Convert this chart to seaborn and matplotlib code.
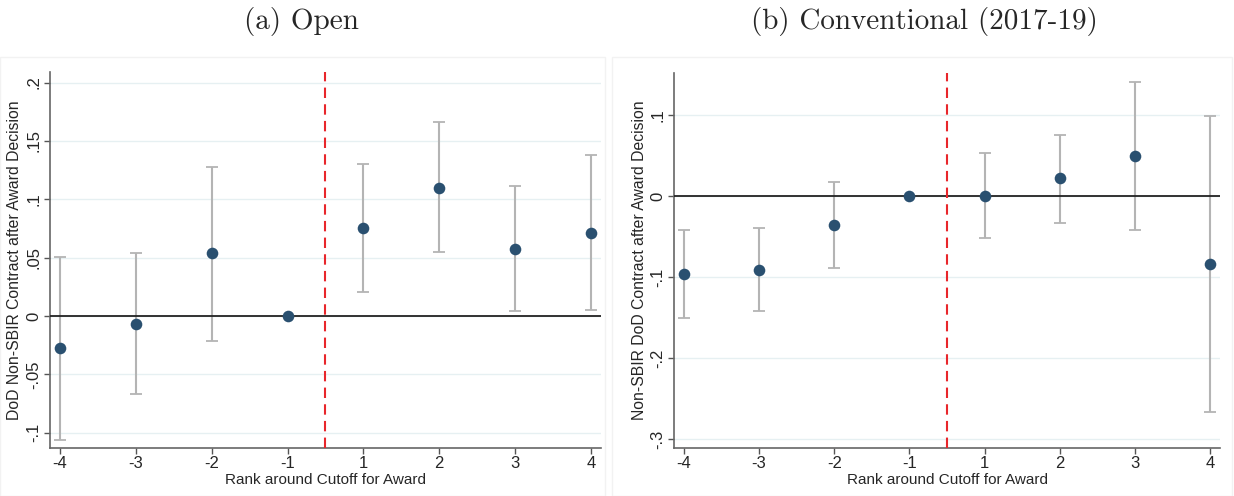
import numpy as np
import pandas as pd
import matplotlib
matplotlib.use("Agg")
import matplotlib.pyplot as plt
import seaborn as sns
from matplotlib.ticker import FuncFormatter

sns.set_style("white")
plt.rcParams['font.family'] = ['Liberation Sans', 'DejaVu Sans']

ranks = ["-4", "-3", "-2", "-1", "1", "2", "3", "4"]

# (a) Open
open_est = [-0.027, -0.007, 0.054, 0.0, 0.075, 0.110, 0.057, 0.071]
open_lo = [-0.106, -0.067, -0.021, 0.0, 0.021, 0.055, 0.004, 0.005]
open_hi = [0.051, 0.054, 0.128, 0.0, 0.130, 0.166, 0.111, 0.138]

# (b) Conventional (2017-19)
conv_est = [-0.096, -0.091, -0.036, 0.0, 0.000, 0.022, 0.049, -0.084]
conv_lo = [-0.150, -0.142, -0.089, 0.0, -0.052, -0.033, -0.042, -0.267]
conv_hi = [-0.042, -0.039, 0.017, 0.0, 0.053, 0.076, 0.141, 0.099]

navy = "#2a5070"
gray_ci = "#b4b4b4"
grid_c = "#e6f0f2"


def stata_fmt(v, pos):
    s = "%g" % round(v, 4)
    s = s.replace("0.", ".")
    return s


def panel(ax, est, lo, hi, yticks, ylim, ylabel):
    df = pd.DataFrame({"rank": ranks, "pos": np.arange(len(ranks)),
                       "est": est, "lo": lo, "hi": hi})
    for t in yticks:
        ax.axhline(t, color=grid_c, lw=1.0, zorder=0)
    has_ci = df["hi"] > df["lo"]
    sub = df[has_ci]
    ax.errorbar(sub["pos"], sub["est"],
                yerr=[sub["est"] - sub["lo"], sub["hi"] - sub["est"]],
                fmt="none", ecolor=gray_ci, elinewidth=1.5, capsize=4,
                capthick=1.3, zorder=2)
    ax.axhline(0, color="#222222", lw=1.3, zorder=3)
    ax.axvline(3.5, color="#e8262b", lw=1.5, ls=(0, (5, 3)), zorder=3)
    sns.scatterplot(data=df, x="pos", y="est", ax=ax, color=navy, s=70,
                    edgecolor=navy, linewidth=0, zorder=4)
    ax.set_xticks(df["pos"])
    ax.set_xticklabels(ranks, fontsize=12)
    ax.set_yticks(yticks)
    ax.yaxis.set_major_formatter(FuncFormatter(stata_fmt))
    for lab in ax.get_yticklabels():
        lab.set_rotation(90)
        lab.set_va("center")
        lab.set_fontsize(12)
    ax.set_xlim(-0.13, 7.13)
    ax.set_ylim(*ylim)
    ax.set_xlabel("Rank around Cutoff for Award", fontsize=11, labelpad=1)
    ax.set_ylabel(ylabel, fontsize=11.3, labelpad=3)
    ax.tick_params(axis="both", length=4, width=1, color="#555555",
                   direction="out", pad=2, left=True, bottom=True)
    for side in ["top", "right"]:
        ax.spines[side].set_visible(False)
    for side in ["left", "bottom"]:
        ax.spines[side].set_color("#666666")
        ax.spines[side].set_linewidth(1.2)


fig = plt.figure(figsize=(12.34, 4.96), dpi=100)
ax1 = fig.add_axes([0.0405, 0.0968, 0.4465, 0.758])
ax2 = fig.add_axes([0.5462, 0.0968, 0.4425, 0.756])

panel(ax1, open_est, open_lo, open_hi,
      [-0.1, -0.05, 0, 0.05, 0.1, 0.15, 0.2], (-0.113, 0.209),
      "DoD Non-SBIR Contract after Award Decision")
panel(ax2, conv_est, conv_lo, conv_hi,
      [-0.3, -0.2, -0.1, 0, 0.1], (-0.311, 0.152),
      "Non-SBIR DoD Contract after Award Decision")

fig.text(301 / 1234, 1 - 22 / 496, "(a) Open", family="cmr10", fontsize=21,
         ha="center", va="center")
fig.text(924 / 1234, 1 - 22 / 496, "(b) Conventional (2017-19)",
         family="cmr10", fontsize=21, ha="center", va="center")

# faint frames around each panel
for x0, w in [(0, 605), (612, 620)]:
    fig.add_artist(plt.Rectangle((x0 / 1234, 0.0), w / 1234, (496 - 57) / 496,
                                 transform=fig.transFigure, fill=False,
                                 edgecolor="#f2f2f2", lw=1.0))

fig.savefig("out.png", dpi=100)
